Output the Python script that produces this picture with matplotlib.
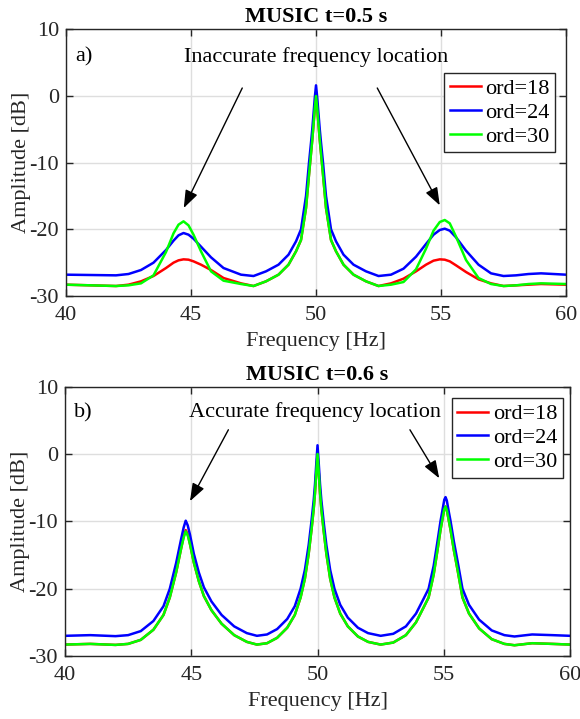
import matplotlib
matplotlib.use("Agg")
import matplotlib.pyplot as plt

# ---- data ----
# panel a) MUSIC t=0.5 s
freq_a = [40, 41, 42, 42.5, 43, 43.5, 44, 44.3, 44.5, 44.7,
          44.9, 45.1, 45.4, 45.8, 46.3, 47, 47.5, 48, 48.5, 48.9,
          49.2, 49.4, 49.6, 49.72, 49.8, 49.85, 49.9, 49.95, 50, 50.05,
          50.1, 50.15, 50.2, 50.28, 50.4, 50.6, 50.8, 51.1, 51.5, 52,
          52.5, 53, 53.5, 54, 54.4, 54.7, 54.95, 55.15, 55.35, 55.6,
          56, 56.5, 57, 57.5, 58, 58.5, 59, 60]
ord18_a = [-28.3, -28.4, -28.5, -28.3, -27.8, -27.0, -25.8, -25.0, -24.65, -24.5,
           -24.55, -24.8, -25.3, -26.1, -27.3, -28.1, -28.5, -27.8, -26.8, -25.3,
           -23.3, -21.6, -16.8, -11.8, -8.6, -6.6, -4.3, -1.9, 0.0, -1.9,
           -4.3, -6.6, -8.6, -11.8, -16.8, -21.6, -23.3, -25.3, -26.8, -27.8,
           -28.5, -28.1, -27.4, -26.3, -25.3, -24.7, -24.5, -24.55, -24.8, -25.4,
           -26.4, -27.5, -28.1, -28.5, -28.4, -28.3, -28.2, -28.3]
ord24_a = [-26.8, -26.85, -26.9, -26.7, -26.1, -25.0, -23.1, -21.7, -20.9, -20.55,
           -20.8, -21.4, -22.6, -24.2, -25.8, -26.8, -27.0, -26.3, -25.3, -23.8,
           -21.8, -20.0, -15.0, -10.0, -7.0, -5.0, -2.7, -0.3, 1.6, -0.3,
           -2.7, -5.0, -7.0, -10.0, -15.0, -20.0, -21.8, -23.8, -25.3, -26.3,
           -27.0, -26.8, -25.9, -24.1, -22.2, -20.8, -20.1, -19.9, -20.2, -21.2,
           -23.2, -25.3, -26.6, -27.0, -26.9, -26.7, -26.6, -26.8]
ord30_a = [-28.3, -28.4, -28.5, -28.4, -28.1, -26.9, -23.4, -20.6, -19.3, -18.8,
           -19.4, -20.8, -23.3, -26.3, -27.7, -28.2, -28.5, -27.8, -26.8, -25.3,
           -23.3, -21.6, -16.8, -11.8, -8.6, -6.6, -4.3, -1.9, 0.0, -1.9,
           -4.3, -6.6, -8.6, -11.8, -16.8, -21.6, -23.3, -25.3, -26.8, -27.8,
           -28.5, -28.3, -27.9, -26.0, -22.9, -20.2, -18.9, -18.6, -19.1, -21.1,
           -24.6, -27.3, -28.2, -28.5, -28.4, -28.2, -28.1, -28.2]

# panel b) MUSIC t=0.6 s
freq_b = [40, 41, 42, 42.5, 43, 43.5, 43.9, 44.15, 44.4, 44.6,
          44.7, 44.78, 44.86, 44.95, 45.1, 45.3, 45.5, 45.8, 46.2, 46.7,
          47.2, 47.6, 48.0, 48.4, 48.8, 49.1, 49.33, 49.5, 49.65, 49.76,
          49.85, 49.9, 49.95, 50.0, 50.05, 50.1, 50.15, 50.24, 50.35, 50.5,
          50.67, 50.9, 51.2, 51.6, 52.0, 52.5, 53.0, 53.5, 53.9, 54.2,
          54.4, 54.6, 54.75, 54.87, 54.95, 55.02, 55.07, 55.12, 55.2, 55.27,
          55.4, 55.55, 55.74, 56.0, 56.4, 56.9, 57.4, 57.8, 58.5, 59.3,
          60]
ord18_b = [-28.3, -28.2, -28.35, -28.2, -27.6, -26.1, -23.9, -21.3, -17.6, -14.0,
           -12.2, -11.3, -11.9, -13.4, -16.1, -18.9, -21.1, -23.2, -25.2, -26.9,
           -27.9, -28.3, -28.1, -27.3, -25.8, -23.9, -21.3, -18.5, -14.8, -11.3,
           -8.1, -5.8, -2.8, 0.0, -2.8, -5.8, -8.1, -11.3, -14.8, -18.5,
           -21.3, -23.7, -25.6, -27.1, -27.9, -28.3, -28.0, -26.9, -25.0, -22.8,
           -21.3, -17.9, -14.3, -11.3, -9.6, -8.2, -7.8, -8.3, -9.9, -11.3,
           -14.3, -17.3, -21.3, -23.7, -25.9, -27.5, -28.2, -28.4, -28.1, -28.2,
           -28.3]
ord24_b = [-27.0, -26.9, -27.05, -26.9, -26.3, -24.8, -22.6, -20.0, -16.2, -12.6,
           -10.9, -9.9, -10.6, -12.0, -14.8, -17.6, -19.8, -21.9, -23.9, -25.6,
           -26.6, -27.0, -26.8, -26.0, -24.5, -22.6, -20.0, -17.2, -13.5, -10.0,
           -6.8, -4.5, -1.5, 1.3, -1.5, -4.5, -6.8, -10.0, -13.5, -17.2,
           -20.0, -22.4, -24.3, -25.8, -26.6, -27.0, -26.7, -25.6, -23.7, -21.5,
           -20.0, -16.6, -13.0, -10.0, -8.3, -6.8, -6.4, -6.9, -8.6, -10.0,
           -13.0, -16.0, -20.0, -22.4, -24.6, -26.2, -26.9, -27.1, -26.8, -26.9,
           -27.0]
ord30_b = [-28.3, -28.2, -28.35, -28.2, -27.6, -26.1, -23.9, -21.3, -17.6, -14.0,
           -12.4, -11.5, -12.1, -13.4, -16.1, -18.9, -21.1, -23.2, -25.2, -26.9,
           -27.9, -28.3, -28.1, -27.3, -25.8, -23.9, -21.3, -18.5, -14.8, -11.3,
           -8.1, -5.8, -2.8, 0.0, -2.8, -5.8, -8.1, -11.3, -14.8, -18.5,
           -21.3, -23.7, -25.6, -27.1, -27.9, -28.3, -28.0, -26.9, -25.0, -22.8,
           -21.3, -17.9, -14.3, -11.3, -9.6, -8.2, -7.8, -8.3, -9.9, -11.3,
           -14.3, -17.3, -21.3, -23.7, -25.9, -27.5, -28.2, -28.4, -28.1, -28.2,
           -28.3]

series_labels = ["ord=18", "ord=24", "ord=30"]
series_colors = ["#ff0000", "#0000ff", "#00ff00"]
x_ticks = [40, 45, 50, 55, 60]
y_ticks = [-30, -20, -10, 0, 10]
y_tick_labels = ["-30", "-20", "-10", "0", "10"]

plt.rcParams['font.family'] = ['Liberation Serif', 'DejaVu Serif']
plt.rcParams['font.size'] = 16

fig = plt.figure(figsize=(5.8, 7.19), dpi=100)
ax_a = fig.add_axes([0.1138, 0.5883, 0.8621, 0.3709])
ax_b = fig.add_axes([0.1121, 0.0876, 0.8707, 0.3746])

panels = [
    (ax_a, freq_a, [ord18_a, ord24_a, ord30_a], "MUSIC t=0.5 s", "a)",
     "Inaccurate frequency location", 50.0, 5.15,
     [((47.05, 1.2), (44.71, -16.8)), ((52.45, 1.2), (54.95, -16.4))],
     (0.978, 0.837)),
    (ax_b, freq_b, [ord18_b, ord24_b, ord30_b], "MUSIC t=0.6 s", "b)",
     "Accurate frequency location", 49.9, 5.45,
     [((46.47, 3.6), (44.95, -7.0)), ((53.66, 3.6), (54.82, -3.6))],
     (0.9855, 0.957)),
]

for ax, freq, curves, title, tag, note, note_x, note_y, arrows, leg_pos in panels:
    for vals, lab, col in zip(curves, series_labels, series_colors):
        ax.plot(freq, vals, color=col, lw=1.8, label=lab)
    ax.set_xlim(40, 60)
    ax.set_ylim(-30, 10)
    ax.set_xticks(x_ticks)
    ax.set_yticks(y_ticks)
    ax.set_yticklabels(y_tick_labels)
    ax.grid(True, color='#dedede', lw=1.0)
    ax.set_axisbelow(True)
    for sp in ax.spines.values():
        sp.set_color('#262626')
        sp.set_linewidth(1.0)
    ax.tick_params(direction='in', length=5, width=1, color='#262626',
                   labelcolor='#262626', top=True, right=True, pad=5)
    ax.tick_params(axis='x', pad=7)
    ax.set_title(title, fontweight='bold', fontsize=16, pad=5)
    ax.set_xlabel("Frequency [Hz]", color='#262626', labelpad=5)
    ax.set_ylabel("Amplitude [dB]", color='#262626', labelpad=-1)
    ax.text(40.35, note_y, tag, ha='left', va='baseline', fontsize=16)
    ax.text(note_x, note_y, note, ha='center', va='baseline', fontsize=16)
    for start, tip in arrows:
        ax.annotate('', xy=tip, xytext=start,
                    arrowprops=dict(arrowstyle='-|>,head_length=0.6,head_width=0.22',
                                    color='k', lw=1.0, mutation_scale=18,
                                    shrinkA=0, shrinkB=0))
    leg = ax.legend(loc='upper right', bbox_to_anchor=leg_pos, fontsize=16,
                    frameon=True, fancybox=False, framealpha=1,
                    edgecolor='#262626', handlelength=1.4, handletextpad=0.2,
                    labelspacing=0.15, borderpad=0.25, borderaxespad=0)
    leg.get_frame().set_linewidth(1.0)

plt.savefig("out.png", dpi=100)
